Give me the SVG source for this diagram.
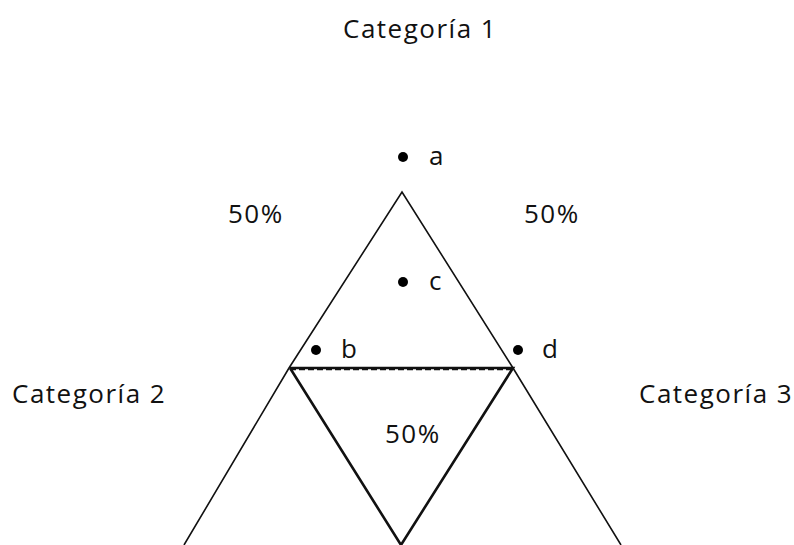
<svg xmlns="http://www.w3.org/2000/svg" width="794" height="545" viewBox="0 0 794 545">
<style>
text{font-family:"Open Sans","Noto Sans","DejaVu Sans",sans-serif;font-size:26px;letter-spacing:1.5px;fill:#111}
.thin{stroke:#111;stroke-width:1.6;fill:none}
.thick{stroke:#111;stroke-width:2.6;fill:none}
.dot{fill:#000}
</style>
<rect width="794" height="545" fill="#fff"/>
<g id="connectors">
<polyline class="thin" points="184,545 289,368 402,192 513,368 621,545"/>
<polyline class="thick" points="290,368 401,545 513,368 290,368"/>
<line x1="290" y1="369.5" x2="513" y2="369.5" stroke="#111" stroke-width="1.5" stroke-dasharray="6,3"/>
</g>
<g id="title"><text x="343" y="38">Categoría 1</text></g>
<g id="cat2"><text x="12" y="403">Categoría 2</text></g>
<g id="cat3"><text x="639" y="403">Categoría 3</text></g>
<g id="p-left"><text x="228" y="223">50%</text></g>
<g id="p-right"><text x="524" y="223">50%</text></g>
<g id="p-mid"><text x="385" y="443">50%</text></g>
<g id="a"><circle class="dot" cx="403" cy="157" r="5"/><text x="429" y="165">a</text></g>
<g id="c"><circle class="dot" cx="403" cy="282" r="5"/><text x="429" y="290">c</text></g>
<g id="b"><circle class="dot" cx="316" cy="350" r="5"/><text x="341" y="358">b</text></g>
<g id="d"><circle class="dot" cx="518" cy="350" r="5"/><text x="542" y="358">d</text></g>
</svg>
